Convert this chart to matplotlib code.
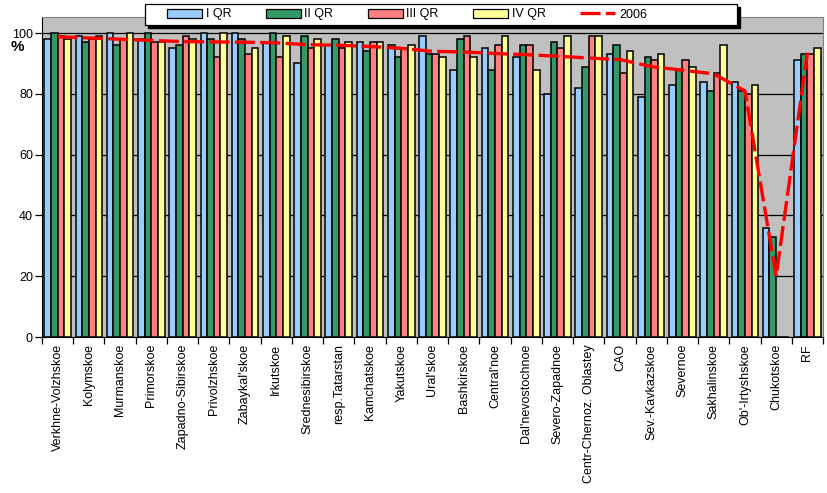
#! /usr/bin python

# ---------------------------------------------------------------------------------------------------------
# IMPORT PYTHON LIBRARIES
# ---------------------------------------------------------------------------------------------------------

import numpy as np
import matplotlib
matplotlib.use('Agg')
import matplotlib.pyplot as plt
from matplotlib.lines import Line2D
from matplotlib.patches import Patch, Rectangle

# ---------------------------------------------------------------------------------------------------------
# DATA
# ---------------------------------------------------------------------------------------------------------

regions = ['Verkhne-Volzhskoe', 'Kolymskoe', 'Murmanskoe', 'Primorskoe', 'Zapadno-Sibirskoe',
           'Privolzhskoe', "Zabaykal'skoe", 'Irkutskoe', 'Srednesibirskoe', 'resp.Tatarstan',
           'Kamchatskoe', 'Yakutskoe', "Ural'skoe", 'Bashkirskoe', "Central'noe",
           "Dal'nevostochnoe", 'Severo-Zapadnoe', 'Centr-Chernoz. Oblastey', 'CAO', 'Sev.-Kavkazskoe',
           'Severnoe', 'Sakhalinskoe', "Ob'-Irtyshskoe", 'Chukotskoe', 'RF']

q1 = [98.0, 99.0, 100.0, 98.0, 95.0, 100.0, 100.0, 97.0, 90.0, 96.0, 97.0, 96.0, 99.0,
      88.0, 95.0, 92.0, 80.0, 82.0, 93.0, 79.0, 83.0, 84.0, 84.0, 36.0, 91.0]
q2 = [100.0, 97.0, 96.0, 100.0, 96.0, 98.0, 98.0, 100.0, 99.0, 98.0, 94.0, 92.0, 93.0,
      98.0, 88.0, 96.0, 97.0, 89.0, 96.0, 92.0, 88.0, 81.0, 81.0, 33.0, 93.0]
q3 = [99.0, 98.0, 98.0, 97.0, 99.0, 92.0, 93.0, 92.0, 95.0, 95.0, 97.0, 95.0, 93.0,
      99.0, 96.0, 96.0, 95.0, 99.0, 87.0, 91.0, 91.0, 87.0, 80.0, 0.0, 93.0]
q4 = [98.0, 99.0, 100.0, 97.0, 98.0, 100.0, 95.0, 99.0, 98.0, 97.0, 97.0, 96.0, 92.0,
      92.0, 99.0, 88.0, 99.0, 99.0, 94.0, 93.0, 89.0, 96.0, 83.0, 0.0, 95.0]
y2006 = [98.8, 98.4, 98.0, 97.6, 97.2, 97.1, 97.0, 96.8, 96.2, 96.0, 95.6, 95.0, 94.0,
         93.8, 93.3, 92.9, 92.4, 91.8, 91.3, 89.0, 87.8, 86.6, 81.0, 20.0, 93.6]

series = [q1, q2, q3, q4]
series_names = ['I QR', 'II QR', 'III QR', 'IV QR']

# ---------------------------------------------------------------------------------------------------------
# SETTINGS
# ---------------------------------------------------------------------------------------------------------

plt.rcParams['font.family'] = ['Liberation Sans', 'DejaVu Sans']
colors = ['#99CCFF', '#339966', '#FF8080', '#FFFF99']
fontsize = 9
w = 0.213
W = 828.; H = 493.   # figure size in pixels

# ---------------------------------------------------------------------------------------------------------
# PLOT
# ---------------------------------------------------------------------------------------------------------

fig = plt.figure(figsize=(W/100, H/100), dpi=100)
ax = fig.add_axes([42/W, 1-337/H, 781/W, 320/H])
ax.set_facecolor('#C0C0C0')

x = np.arange(len(regions))
for i, vals in enumerate(series):
    ax.bar(x + (i - 1.5)*w, vals, width=w, color=colors[i], edgecolor='black',
           linewidth=1.1, zorder=3)

ax.plot(x, y2006, color='#FF0000', linewidth=2.4, dashes=(6, 1.6), zorder=4)

ax.set_xlim(-0.5, len(regions) - 0.5)
ax.set_ylim(0, 105.3)
ax.set_yticks(np.arange(0, 101, 20))
ax.yaxis.grid(True, color='black', linewidth=0.9, zorder=1)
ax.set_axisbelow(True)

ax.set_xticks(x)
ax.set_xticklabels(regions, rotation=90, fontsize=fontsize)
ax.set_xticks(np.arange(-0.5, len(regions), 1), minor=True)
ax.tick_params(axis='x', which='major', length=0, pad=5)
ax.tick_params(axis='x', which='minor', length=5, direction='out', width=0.9)
ax.tick_params(axis='y', length=5, direction='out', width=0.9, labelsize=fontsize, pad=1.5)

ax.spines['left'].set_color('black')
ax.spines['bottom'].set_color('black')
ax.spines['top'].set_color('#808080')
ax.spines['right'].set_color('#808080')

fig.text(17/W, 1-47/H, '%', fontsize=11, fontweight='bold', ha='center', va='center')

# legend box with black shadow (drawn by hand, Excel style)
bx0, by0, bw, bh = 145, 4, 592, 21
fig.patches.append(Rectangle(((bx0+3)/W, 1-(by0+bh+3)/H), bw/W, bh/H, transform=fig.transFigure,
                             facecolor='black', edgecolor='black', zorder=6))
fig.patches.append(Rectangle((bx0/W, 1-(by0+bh)/H), bw/W, bh/H, transform=fig.transFigure,
                             facecolor='white', edgecolor='black', linewidth=0.9, zorder=7))

handles = [Patch(facecolor=colors[i], edgecolor='black', linewidth=0.9) for i in range(4)]
handles.append(Line2D([], [], color='#FF0000', linewidth=2.4, dashes=(6, 1.6)))
labels = series_names + ['2006']
leg = fig.legend(handles, labels, ncol=5, loc='center',
                 bbox_to_anchor=(407/W, 1-(by0 + bh/2)/H), bbox_transform=fig.transFigure,
                 fontsize=fontsize, frameon=False, borderaxespad=0,
                 handlelength=2.8, handleheight=0.7, handletextpad=0.3, columnspacing=2.75)
leg.set_zorder(8)

plt.savefig('out.png', dpi=100)
